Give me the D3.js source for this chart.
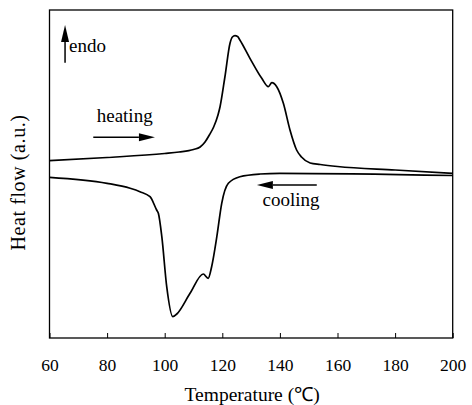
<!DOCTYPE html>
<html>
<head>
<meta charset="utf-8">
<script src="https://cdnjs.cloudflare.com/ajax/libs/d3/7.8.5/d3.min.js"></script>
<style>
  body { margin: 0; background: #fff; }
  text { font-family: "Liberation Serif", "Times New Roman", serif; fill: #000; }
</style>
</head>
<body>
<div id="chart-area"></div>
<script>
var mwidth = 472;
var mheight = 405;
var margin = {top: 10, right: 19.3, bottom: 67, left: 49.5};
var width = mwidth - margin.left - margin.right;
var height = mheight - margin.top - margin.bottom;

// heating run (temperature, heat flow a.u.)
var heatT = [60, 80, 100, 105, 110, 112.3, 114, 115.5, 117, 118.5, 119.2, 120.9, 122.7, 123.5, 124.4, 125.3, 126.1, 129.6, 133.7, 136, 137.2, 138.9, 141.2, 143.5, 145.8, 147.5, 150.5, 154, 160, 180, 200];
var heatV = [177.3, 180.5, 184.5, 186, 188.5, 191, 196, 203, 211, 223, 231, 261, 295, 301, 302.3, 301.5, 298, 279.7, 259.7, 251.3, 255.3, 251.3, 234.7, 208, 188, 181, 175, 173.5, 171.5, 168, 164.7];

// cooling run
var coolT = [60, 80, 88, 91.4, 94.9, 97.2, 97.8, 99, 100.7, 102.8, 104.2, 108.8, 113.4, 115.1, 116.3, 118.1, 119.8, 122.1, 126.1, 133.1, 140, 200];
var coolV = [160.7, 154.7, 149.7, 146.3, 141.3, 128, 124.7, 101.3, 51.3, 21.3, 24, 44.7, 64, 59.7, 71.3, 101.3, 134.7, 154.7, 161.3, 164, 164.7, 162.5];

var xTicks = [60, 80, 100, 120, 140, 160, 180, 200];

var svg = d3.select("#chart-area").append("svg")
  .attr("width", mwidth)
  .attr("height", mheight);

var g = svg.append("g")
  .attr("transform", "translate(" + margin.left + ", " + margin.top + ")");

var x = d3.scaleLinear().domain([60, 200]).range([0, width]);
var y = d3.scaleLinear().domain([0, 328]).range([height, 0]);

var xAxis = d3.axisBottom(x)
  .tickValues(xTicks)
  .tickSizeInner(-5)
  .tickSizeOuter(0)
  .tickPadding(21);

var xAxisGroup = g.append("g")
  .attr("transform", "translate(0, " + height + ")")
  .call(xAxis);
xAxisGroup.select(".domain").remove();
xAxisGroup.selectAll("line").attr("stroke", "#000").attr("stroke-width", 1);
xAxisGroup.selectAll("text")
  .style("font-family", "'Liberation Serif', serif")
  .attr("font-size", "17.5px");

g.append("rect")
  .attr("x", 0).attr("y", 0)
  .attr("width", width).attr("height", height)
  .attr("fill", "none")
  .attr("stroke", "#000")
  .attr("stroke-width", 1.3);

var line = d3.line()
  .x((d) => { return x(d[0]); })
  .y((d) => { return y(d[1]); })
  .curve(d3.curveMonotoneX);

var heating = d3.zip(heatT, heatV);
var cooling = d3.zip(coolT, coolV);

[heating, cooling].forEach((data) => {
  g.append("path")
    .datum(data)
    .attr("d", line)
    .attr("fill", "none")
    .attr("stroke", "#000")
    .attr("stroke-width", 1.7)
    .attr("stroke-linejoin", "round");
});

// annotation arrows: [x1, y1, x2, y2] in data units, head at the second point
var arrows = [[75.2, 200.7, 96.6, 200.7], [152.8, 153, 132, 153], [65.4, 275.3, 65.4, 313]];
arrows.forEach((a) => {
  var x1 = x(a[0]), y1 = y(a[1]), x2 = x(a[2]), y2 = y(a[3]);
  var len = Math.hypot(x2 - x1, y2 - y1);
  var ux = (x2 - x1) / len, uy = (y2 - y1) / len;
  var hl = a[0] == a[2] ? 17 : 16, hw = 4;
  var bx = x2 - ux * hl, by = y2 - uy * hl;
  g.append("line")
    .attr("x1", x1).attr("y1", y1)
    .attr("x2", bx).attr("y2", by)
    .attr("stroke", "#000")
    .attr("stroke-width", 1.5);
  g.append("path")
    .attr("d", "M" + x2 + "," + y2 + "L" + (bx - uy * hw) + "," + (by + ux * hw) + "L" + (bx + uy * hw) + "," + (by - ux * hw) + "Z")
    .attr("fill", "#000");
});

var labels = [["heating", 76.4, 216.3], ["cooling", 134, 132.3], ["endo", 66.8, 286.3]];
labels.forEach((l) => {
  g.append("text")
    .attr("x", x(l[1]))
    .attr("y", y(l[2]))
    .attr("font-size", "19px")
    .text(l[0]);
});

g.append("text")
  .attr("x", width / 2 + 1)
  .attr("y", height + 63)
  .attr("font-size", "19.5px")
  .attr("text-anchor", "middle")
  .text("Temperature (℃)");

g.append("text")
  .attr("x", -(172.5))
  .attr("y", -25)
  .attr("font-size", "20px")
  .attr("letter-spacing", "0.6px")
  .attr("text-anchor", "middle")
  .attr("transform", "rotate(-90)")
  .text("Heat flow (a.u.)");
</script>
</body>
</html>
